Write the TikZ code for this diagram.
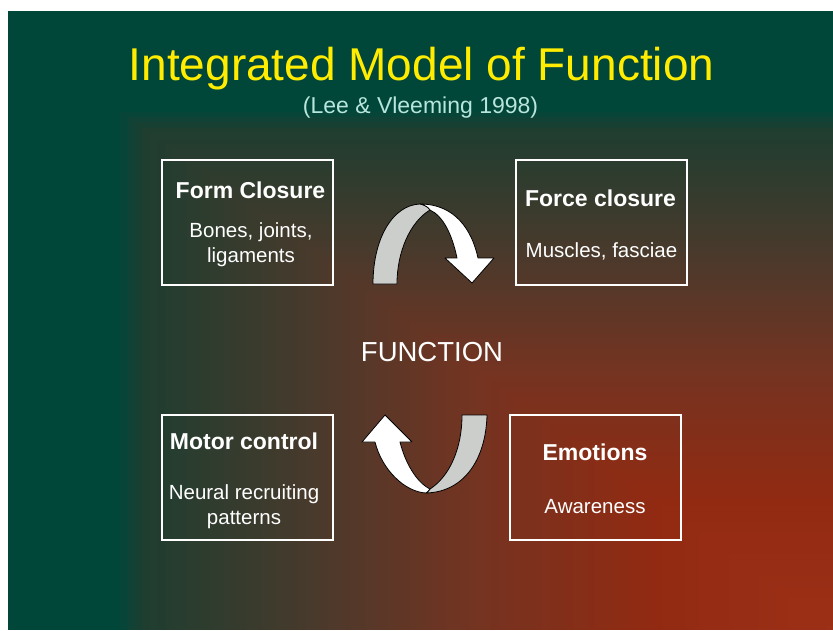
\documentclass[tikz,border=0pt]{standalone}
\usepackage{fontspec}
\setmainfont{Liberation Sans}
\definecolor{bggreen}{RGB}{0,71,58}
\definecolor{bgmid}{RGB}{30,62,48}
\definecolor{bgbrown}{RGB}{70,58,44}
\definecolor{bgrust}{RGB}{114,52,34}
\definecolor{bgred}{RGB}{146,42,18}
\definecolor{bgpeak}{RGB}{156,48,22}
\definecolor{titleyellow}{RGB}{255,236,0}
\definecolor{subcyan}{RGB}{185,230,220}
\definecolor{bandgray}{RGB}{204,206,204}
\tikzstyle{box} = [draw=white, line width=2pt, minimum width=171pt, minimum height=125pt, inner sep=0pt]
\tikzstyle{head} = [text=white, font=\fontsize{23}{27}\selectfont\bfseries, anchor=base, inner sep=0pt]
\tikzstyle{body} = [text=white, font=\fontsize{20.5}{25}\selectfont, anchor=base, inner sep=0pt]
\tikzstyle{band back} = [fill=bandgray, draw=black, line width=0.8pt, line join=round]
\tikzstyle{band front} = [fill=white, draw=black, line width=0.8pt, line join=round]

\begin{document}
\begin{tikzpicture}[x=1pt,y=-1pt]
	\useasboundingbox (0,0) rectangle (833,630);
	\fill[white] (0,0) rectangle (833,630);
	\fill[bggreen] (8,11) rectangle (833,630);
	\foreach \i in {0,...,100}{
		\pgfmathsetmacro\t{0.9*(1-\i/100)}
		\ifdim\t pt<0.22pt
			\pgfmathtruncatemacro\p{100*\t/0.22}
			\colorlet{bandcol}{bgred!\p!bgpeak}
		\else\ifdim\t pt<0.45pt
			\pgfmathtruncatemacro\p{100*(\t-0.22)/0.23}
			\colorlet{bandcol}{bgrust!\p!bgred}
		\else\ifdim\t pt<0.645pt
			\pgfmathtruncatemacro\p{100*(\t-0.45)/0.195}
			\colorlet{bandcol}{bgbrown!\p!bgrust}
		\else\ifdim\t pt<0.84pt
			\pgfmathtruncatemacro\p{100*(\t-0.645)/0.195}
			\colorlet{bandcol}{bgmid!\p!bgbrown}
		\else
			\pgfmathtruncatemacro\p{min(100,100*(\t-0.84)/0.032)}
			\colorlet{bandcol}{bggreen!\p!bgmid}
		\fi\fi\fi\fi
		\fill[bandcol] (833-\t*825,630-\t*600) rectangle (833,630);
	}
	\node[text=titleyellow, font=\fontsize{46}{55}\selectfont, anchor=base, inner sep=0pt] (title) at (421.5,80) {Integrated Model of Function};
	\node[text=subcyan, font=\fontsize{23}{27}\selectfont, anchor=base, inner sep=0pt] (source) at (420.5,113) {(Lee \& Vleeming 1998)};
	\node[box] (form) at (247.5,222.5) {};
	\node[head] (formhead) at (250.5,198) {Form Closure};
	\node[body] (formbody1) at (251,237) {Bones, joints,};
	\node[body] (formbody2) at (251,262) {ligaments};
	\node[box] (force) at (601.5,222.5) {};
	\node[head] (forcehead) at (600.5,206) {Force closure};
	\node[body] (forcebody) at (601.5,257) {Muscles, fasciae};
	\node[box] (motor) at (247.5,477.5) {};
	\node[head] (motorhead) at (244,449) {Motor control};
	\node[body] (motorbody1) at (244,499) {Neural recruiting};
	\node[body] (motorbody2) at (244,524) {patterns};
	\node[box] (emotion) at (595.5,477.5) {};
	\node[head] (emotionhead) at (595,460) {Emotions};
	\node[body] (emotionbody) at (595,513) {Awareness};
	\node[text=white, font=\fontsize{27.5}{32}\selectfont, anchor=base, inner sep=0pt] (function) at (432,361) {FUNCTION};
	\path[band back] (373,284) .. controls (373,238) and (393,205) .. (420,204) .. controls (425,205) and (428,207) .. (430,210) .. controls (410,222) and (397,252) .. (397,284) -- cycle;
	\path[band front] (420,204) .. controls (455,204) and (472,230) .. (478,258) -- (494,258) -- (472,283) -- (445,258) -- (457,258) .. controls (452,234) and (443,216) .. (430,210) .. controls (428,207) and (425,205) .. (420,204) -- cycle;
	\path[band back] (462,415) -- (487,415) .. controls (486,458) and (465,492) .. (426,493) .. controls (427,492) and (429,491) .. (430,489) .. controls (450,476) and (462,448) .. (462,415) -- cycle;
	\path[band front] (426,493) .. controls (405,492) and (382,470) .. (375,442) -- (362,442) -- (385,415) -- (412,442) -- (400,442) .. controls (405,462) and (416,482) .. (430,489) .. controls (429,491) and (427,492) .. (426,493) -- cycle;
\end{tikzpicture}
\end{document}
